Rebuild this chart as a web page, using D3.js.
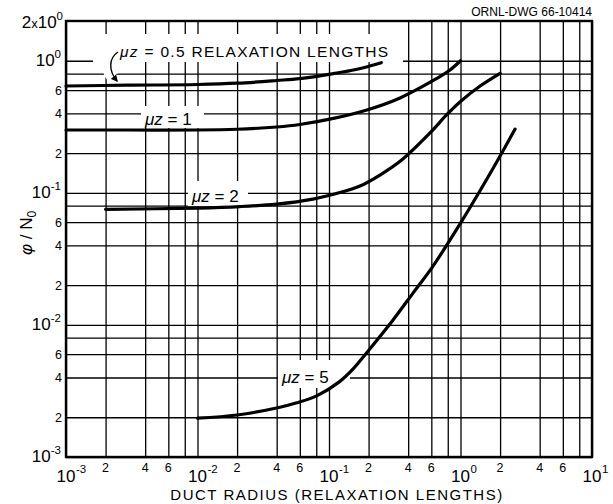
<!DOCTYPE html>
<html>
<head>
<meta charset="utf-8">
<script src="https://cdn.jsdelivr.net/npm/d3@7"></script>
<style>
    body { margin: 0; background: #fff; }
    svg text { font-family: "Liberation Sans", Arial, sans-serif; fill: #000; }
</style>
</head>
<body>
<div id="chart"></div>
<script>
const WIDTH = 613, HEIGHT = 504;
const margin = {top: 21, right: 21, bottom: 47, left: 66};
const innerW = WIDTH - margin.left - margin.right;
const innerH = HEIGHT - margin.top - margin.bottom;

// ---------------------------- data ----------------------------
const xDecades = [-3, -2, -1, 0, 1];
const yDecades = [-3, -2, -1, 0];
const gridSteps = [1, 2, 4, 6, 8];
const labelSteps = [2, 4, 6];

// flux ratio vs duct radius, one pair of arrays per curve (mu z = 0.5, 1, 2, 5)
const mu05X = [0.001, 0.0029, 0.01, 0.02, 0.04, 0.06, 0.108, 0.16, 0.25];
const mu05Y = [0.644, 0.653, 0.661, 0.676, 0.709, 0.733, 0.80, 0.859, 0.967];

const mu1X = [0.001, 0.003, 0.01, 0.02, 0.04, 0.06, 0.108, 0.194, 0.347, 0.621, 0.832, 1.0];
const mu1Y = [0.299, 0.299, 0.299, 0.303, 0.315, 0.329, 0.366, 0.424, 0.523, 0.709, 0.852, 1.0];

const mu2X = [0.002, 0.01, 0.021, 0.04, 0.0756, 0.121, 0.172, 0.244, 0.357, 0.586, 0.789, 1.0, 1.41, 2.0];
const mu2Y = [0.075, 0.0767, 0.0787, 0.0822, 0.0897, 0.1005, 0.1126, 0.1364, 0.1772, 0.284, 0.392, 0.492, 0.644, 0.804];

const mu5X = [0.01, 0.02, 0.0424, 0.056, 0.08, 0.119, 0.152, 0.195, 0.307, 0.435, 0.618, 1.0, 1.74, 2.6];
const mu5Y = [0.00197, 0.00208, 0.00238, 0.00256, 0.00289, 0.00369, 0.00463, 0.00622, 0.0109, 0.0174, 0.0279, 0.059, 0.149, 0.304];

const zip = (xs, ys) => xs.map((v, i) => [v, ys[i]]);

// ---------------------------- scales ----------------------------
const x = d3.scaleLog().domain([1e-3, 1e1]).range([margin.left, margin.left + innerW]);
const y = d3.scaleLog().domain([1e-3, 2]).range([margin.top + innerH, margin.top]);

const xGrid = xDecades.slice(0, -1).flatMap(e => gridSteps.map(s => s * Math.pow(10, e))).concat([10]);
const yGrid = yDecades.slice(0, -1).flatMap(e => gridSteps.map(s => s * Math.pow(10, e))).concat([1]);

const svg = d3.select("#chart").append("svg")
    .attr("width", WIDTH)
    .attr("height", HEIGHT);

// ---------------------------- grid ----------------------------
svg.append("g")
    .attr("transform", `translate(0,${margin.top + innerH})`)
    .call(d3.axisBottom(x).tickValues(xGrid).tickSize(-innerH).tickFormat(""))
    .call(g => g.select(".domain").remove())
    .call(g => g.selectAll(".tick line").attr("stroke", "#000").attr("stroke-width", 1.3));

svg.append("g")
    .attr("transform", `translate(${margin.left},0)`)
    .call(d3.axisLeft(y).tickValues(yGrid).tickSize(-innerW).tickFormat(""))
    .call(g => g.select(".domain").remove())
    .call(g => g.selectAll(".tick line").attr("stroke", "#000").attr("stroke-width", 1.3));

// white boxes behind labels (the grid is broken there)
const boxes = [
    [93, 34, 310, 28],
    [141, 106, 63, 22],
    [188, 181, 60, 25],
    [278, 360, 72, 28]
];
svg.append("g").selectAll("rect").data(boxes).enter().append("rect")
    .attr("x", d => d[0]).attr("y", d => d[1])
    .attr("width", d => d[2]).attr("height", d => d[3])
    .attr("fill", "#fff");

// leader arrow for the 0.5 label
const arrowPath = "M118,52 C109,58 108,70 117,81";
svg.append("path").attr("d", "M118,50 C109,58 108,68 114,76")
    .attr("fill", "none").attr("stroke", "#fff").attr("stroke-width", 16);

svg.append("defs").append("marker")
    .attr("id", "arrow")
    .attr("viewBox", "0 0 10 10")
    .attr("refX", 8).attr("refY", 5)
    .attr("markerWidth", 7).attr("markerHeight", 7)
    .attr("markerUnits", "userSpaceOnUse")
    .attr("orient", "auto")
    .append("path").attr("d", "M0,0 L10,5 L0,10 z").attr("fill", "#000");

svg.append("path").attr("d", arrowPath)
    .attr("fill", "none").attr("stroke", "#000").attr("stroke-width", 1.4)
    .attr("marker-end", "url(#arrow)");

// frame
svg.append("rect")
    .attr("x", margin.left).attr("y", margin.top)
    .attr("width", innerW).attr("height", innerH)
    .attr("fill", "none").attr("stroke", "#000").attr("stroke-width", 2.4);

// ---------------------------- curves ----------------------------
const line = d3.line()
    .x(d => x(d[0]))
    .y(d => y(d[1]))
    .curve(d3.curveCatmullRom.alpha(0.5));

svg.append("g").selectAll("path")
    .data([zip(mu05X, mu05Y), zip(mu1X, mu1Y), zip(mu2X, mu2Y), zip(mu5X, mu5Y)])
    .enter().append("path")
    .attr("d", line)
    .attr("fill", "none")
    .attr("stroke", "#000")
    .attr("stroke-width", 3.2)
    .attr("stroke-linecap", "round");

// ---------------------------- curve labels ----------------------------
function muLabel(px, py, rest, size, spacing) {
    const t = svg.append("text")
        .attr("x", px).attr("y", py)
        .style("font-size", size + "px")
        .style("letter-spacing", spacing + "px");
    t.append("tspan").style("font-style", "italic").text("μz");
    t.append("tspan").text(rest);
}
muLabel(120, 57, " = 0.5 RELAXATION LENGTHS", 15.5, 1.3);
muLabel(145, 125, " = 1", 17, 0);
muLabel(192, 202, " = 2", 17, 0);
muLabel(282, 383, " = 5", 17, 0);

// ---------------------------- axis labels ----------------------------
const xl = svg.append("g");
xDecades.forEach(e => {
    const px = x(Math.pow(10, e));
    const base = xl.append("text")
        .attr("x", px).attr("y", 482)
        .attr("text-anchor", "middle")
        .style("font-size", "17px")
        .text("10");
    const w = base.node().getComputedTextLength();
    xl.append("text")
        .attr("x", px + w / 2 + 0.5).attr("y", 473)
        .style("font-size", "11.5px")
        .text(String(e));
});
xDecades.slice(0, -1).forEach(e => {
    labelSteps.forEach(s => {
        xl.append("text")
            .attr("x", x(s * Math.pow(10, e))).attr("y", 472)
            .attr("text-anchor", "middle")
            .style("font-size", "12.5px")
            .text(s);
    });
});

const yl = svg.append("g");
yDecades.forEach(e => {
    const py = y(Math.pow(10, e));
    const t = yl.append("text")
        .attr("x", 61).attr("y", py + 5)
        .attr("text-anchor", "end")
        .style("font-size", "17px");
    t.append("tspan").text("10");
    t.append("tspan").attr("dy", -8).style("font-size", "11.5px").text(String(e));
});
yDecades.slice(0, -1).forEach(e => {
    labelSteps.forEach(s => {
        yl.append("text")
            .attr("x", 62).attr("y", y(s * Math.pow(10, e)) + 4.5)
            .attr("text-anchor", "end")
            .style("font-size", "12.5px")
            .text(s);
    });
});
// top label 2x10^0
const topLab = yl.append("text")
    .attr("x", 63).attr("y", y(2) + 7)
    .attr("text-anchor", "end")
    .style("font-size", "17px");
topLab.append("tspan").text("2");
topLab.append("tspan").style("font-size", "13px").text("x");
topLab.append("tspan").text("10");
topLab.append("tspan").attr("dy", -8).style("font-size", "11.5px").text("0");

// axis titles
svg.append("text")
    .attr("x", 337).attr("y", 500)
    .attr("text-anchor", "middle")
    .style("font-size", "15px")
    .style("letter-spacing", "1.5px")
    .text("DUCT RADIUS (RELAXATION LENGTHS)");

const yt = svg.append("text")
    .attr("transform", "translate(32,233) rotate(-90)")
    .attr("text-anchor", "middle")
    .style("font-size", "17px");
yt.append("tspan").style("font-style", "italic").text("φ");
yt.append("tspan").text(" / N");
yt.append("tspan").attr("dy", 4).style("font-size", "12px").text("0");

svg.append("text")
    .attr("x", 592).attr("y", 16)
    .attr("text-anchor", "end")
    .style("font-size", "12px")
    .text("ORNL-DWG 66-10414");
</script>
</body>
</html>
